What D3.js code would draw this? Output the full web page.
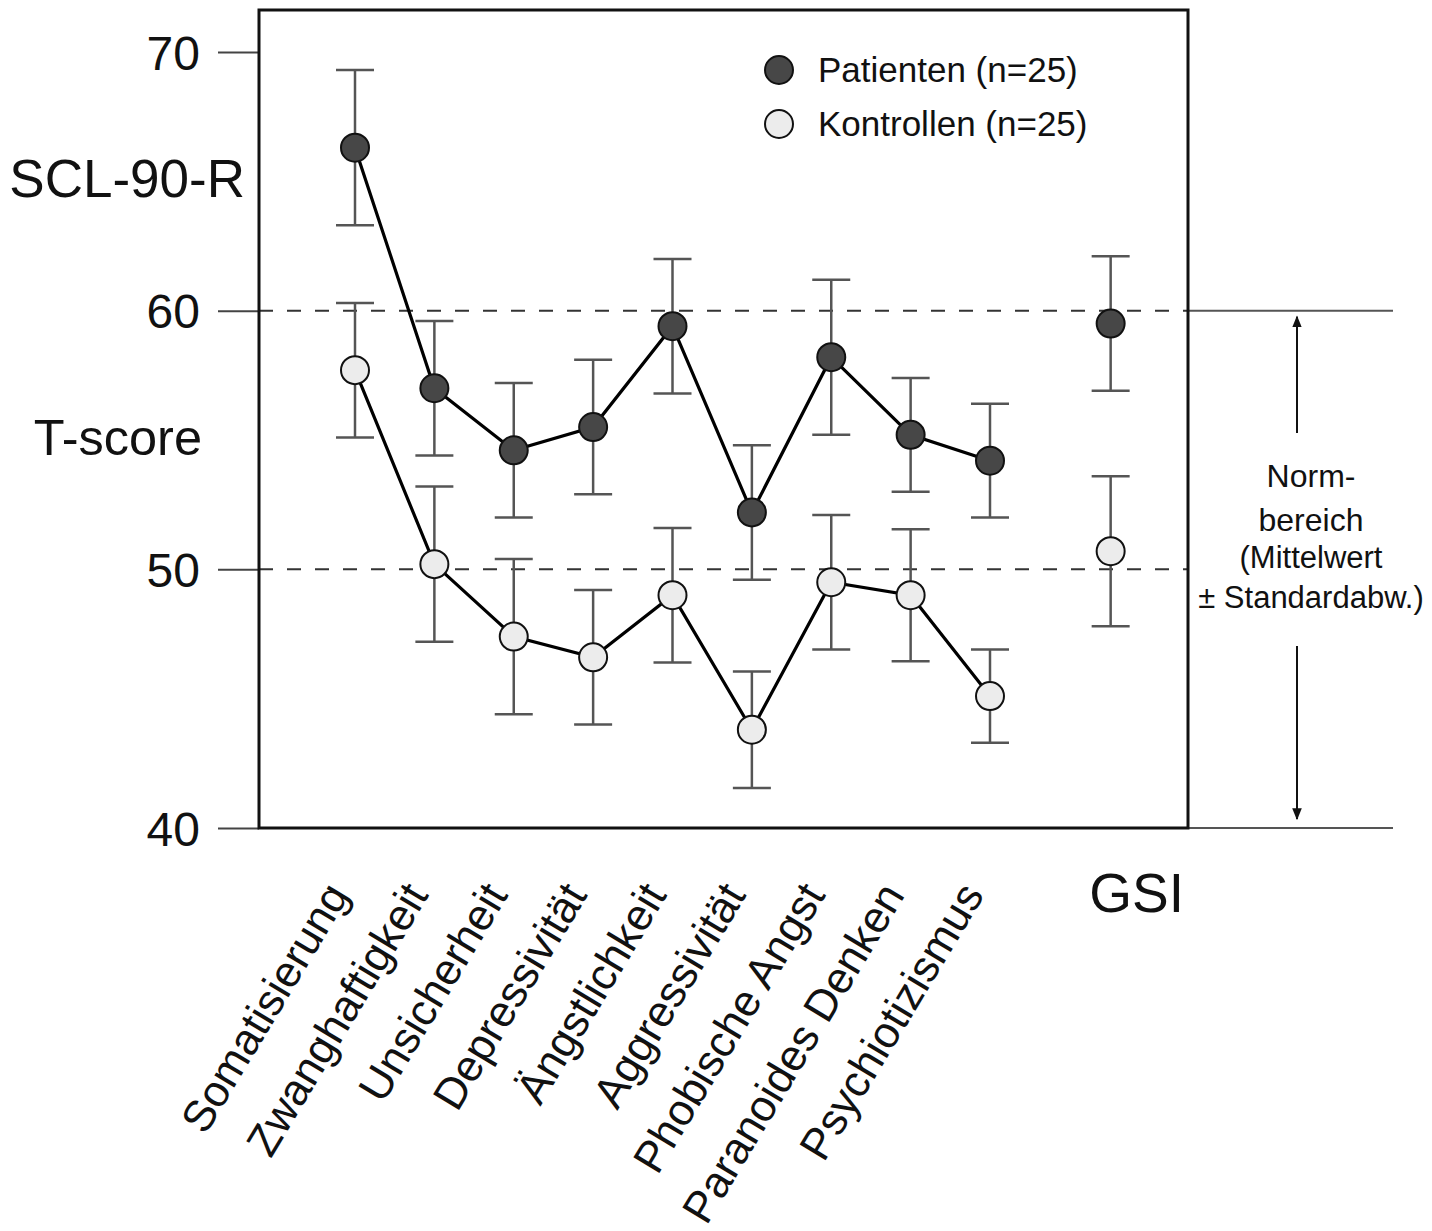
<!DOCTYPE html>
<html>
<head>
<meta charset="utf-8">
<script src="https://cdn.jsdelivr.net/npm/d3@7"></script>
<style>
  body { margin: 0; background: #fff; }
  text { font-family: "Liberation Sans", Arial, Helvetica, sans-serif; fill: #111; }
</style>
</head>
<body>
<svg id="chart"></svg>
<script>
// subscales of the SCL-90-R plus the global severity index
const SUBSCALES = ['Somatisierung', 'Zwanghaftigkeit', 'Unsicherheit', 'Depressivität', 'Ängstlichkeit',
  'Aggressivität', 'Phobische Angst', 'Paranoides Denken', 'Psychiotizismus'];
const GSI = 'GSI';

// T-score means and standard deviations (subscales first, GSI last)
const PATIENT_MEAN = [66.3, 57.0, 54.6, 55.5, 59.4, 52.2, 58.2, 55.2, 54.2, 59.5];
const PATIENT_SD   = [3.0, 2.6, 2.6, 2.6, 2.6, 2.6, 3.0, 2.2, 2.2, 2.6];
const CONTROL_MEAN = [57.7, 50.2, 47.4, 46.6, 49.0, 43.8, 49.5, 49.0, 45.1, 50.7];
const CONTROL_SD   = [2.6, 3.0, 3.0, 2.6, 2.6, 2.25, 2.6, 2.55, 1.8, 2.9];

const Y_TICKS = [40, 50, 60, 70];
const NORM_RANGE = [50, 60];
const LEGEND = ['Patienten (n=25)', 'Kontrollen (n=25)'];
const NORM_NOTE = ['Norm-', 'bereich', '(Mittelwert', '± Standardabw.)'];

const WIDTH = 1432;
const HEIGHT = 1231;
const FRAME = { left: 259, right: 1188, top: 10 };
const FILL = { patient: '#474747', control: '#ececec' };

const svg = d3.select('#chart')
  .attr('width', WIDTH)
  .attr('height', HEIGHT);

const y = d3.scaleLinear().domain([40, 70]).range([828, 52]);
const x = d3.scalePoint().domain(SUBSCALES).range([355, 990]);
const gsiX = x(SUBSCALES[SUBSCALES.length - 1]) + x.step() * 1.52;
const xPos = name => name === GSI ? gsiX : x(name);

const names = SUBSCALES.concat([GSI]);
const groups = [
  { key: 'control', data: names.map((n, i) => ({ name: n, mean: CONTROL_MEAN[i], sd: CONTROL_SD[i] })) },
  { key: 'patient', data: names.map((n, i) => ({ name: n, mean: PATIENT_MEAN[i], sd: PATIENT_SD[i] })) }
];

// norm range dashed lines inside the frame
svg.append('g')
  .selectAll('line')
  .data(NORM_RANGE)
  .enter()
  .append('line')
  .attr('x1', FRAME.left)
  .attr('x2', FRAME.right)
  .attr('y1', d => y(d))
  .attr('y2', d => y(d))
  .attr('stroke', '#333')
  .attr('stroke-width', 2)
  .attr('stroke-dasharray', '14,14');

// lines outside the frame marking the norm area
svg.append('g')
  .selectAll('line')
  .data([60, 40])
  .enter()
  .append('line')
  .attr('x1', FRAME.right)
  .attr('x2', 1393)
  .attr('y1', d => y(d))
  .attr('y2', d => y(d))
  .attr('stroke', '#555')
  .attr('stroke-width', 2);

// y axis
const yAxis = svg.append('g')
  .attr('transform', `translate(${FRAME.left}, 0)`)
  .call(d3.axisLeft(y).tickValues(Y_TICKS).tickSize(41).tickPadding(18));
yAxis.select('.domain').remove();
yAxis.selectAll('.tick line').attr('stroke', '#444').attr('stroke-width', 2);
yAxis.selectAll('.tick text')
  .attr('font-size', 48)
  .attr('fill', '#111')
  .attr('dy', '0.36em')
  .style('font-family', '"Liberation Sans", Arial, sans-serif');

svg.append('text')
  .attr('x', 245)
  .attr('y', 197)
  .attr('text-anchor', 'end')
  .attr('font-size', 53)
  .text('SCL-90-R');

svg.append('text')
  .attr('x', 202)
  .attr('y', 455)
  .attr('text-anchor', 'end')
  .attr('font-size', 50.5)
  .text('T-score');

// error bars
groups.forEach(g => {
  const bars = svg.append('g')
    .attr('class', `err ${g.key}`)
    .selectAll('g')
    .data(g.data)
    .enter()
    .append('g')
    .attr('stroke', '#555')
    .attr('stroke-width', 2.5);
  bars.append('line')
    .attr('x1', d => xPos(d.name))
    .attr('x2', d => xPos(d.name))
    .attr('y1', d => y(d.mean + d.sd))
    .attr('y2', d => y(d.mean - d.sd));
  [1, -1].forEach(s => {
    bars.append('line')
      .attr('x1', d => xPos(d.name) - 19)
      .attr('x2', d => xPos(d.name) + 19)
      .attr('y1', d => y(d.mean + s * d.sd))
      .attr('y2', d => y(d.mean + s * d.sd));
  });
});

// connecting lines (subscales only)
const line = d3.line()
  .x(d => x(d.name))
  .y(d => y(d.mean));

groups.forEach(g => {
  svg.append('path')
    .datum(g.data.filter(d => d.name !== GSI))
    .attr('d', line)
    .attr('fill', 'none')
    .attr('stroke', '#000')
    .attr('stroke-width', 3.2);
});

// points
groups.forEach(g => {
  svg.append('g')
    .selectAll('circle')
    .data(g.data)
    .enter()
    .append('circle')
    .attr('cx', d => xPos(d.name))
    .attr('cy', d => y(d.mean))
    .attr('r', 14)
    .attr('fill', FILL[g.key])
    .attr('stroke', '#111')
    .attr('stroke-width', 2);
});

// frame
svg.append('rect')
  .attr('x', FRAME.left)
  .attr('y', FRAME.top)
  .attr('width', FRAME.right - FRAME.left)
  .attr('height', y(40) - FRAME.top)
  .attr('fill', 'none')
  .attr('stroke', '#111')
  .attr('stroke-width', 3);

// category labels
svg.append('g')
  .selectAll('text')
  .data(SUBSCALES)
  .enter()
  .append('text')
  .attr('text-anchor', 'end')
  .attr('font-size', 44)
  .attr('transform', d => `translate(${x(d) - 5}, 895) rotate(-59)`)
  .text(d => d);

svg.append('text')
  .attr('x', gsiX + 26)
  .attr('y', 912)
  .attr('text-anchor', 'middle')
  .attr('font-size', 55)
  .text(GSI);

// legend
const legend = svg.append('g')
  .selectAll('g')
  .data(LEGEND)
  .enter()
  .append('g')
  .attr('transform', (d, i) => `translate(779, ${70 + i * 54})`);
legend.append('circle')
  .attr('r', 14)
  .attr('fill', (d, i) => i === 0 ? FILL.patient : FILL.control)
  .attr('stroke', '#111')
  .attr('stroke-width', 2);
legend.append('text')
  .attr('x', 39)
  .attr('dy', '0.35em')
  .attr('font-size', 35)
  .text(d => d);

// norm range annotation with arrows
const defs = svg.append('defs');
defs.append('marker')
  .attr('id', 'arrow')
  .attr('viewBox', '0 0 10 10')
  .attr('refX', 9)
  .attr('refY', 5)
  .attr('markerWidth', 6)
  .attr('markerHeight', 8)
  .attr('orient', 'auto')
  .append('path')
  .attr('d', 'M0,1 L10,5 L0,9 Z')
  .attr('fill', '#111');

const arrowX = 1297;
svg.append('line')
  .attr('x1', arrowX).attr('x2', arrowX)
  .attr('y1', 433).attr('y2', y(60) + 6)
  .attr('stroke', '#111').attr('stroke-width', 2)
  .attr('marker-end', 'url(#arrow)');
svg.append('line')
  .attr('x1', arrowX).attr('x2', arrowX)
  .attr('y1', 646).attr('y2', y(40) - 9)
  .attr('stroke', '#111').attr('stroke-width', 2)
  .attr('marker-end', 'url(#arrow)');

const noteSize = [32, 32, 31, 31];
const noteY = [487, 531, 568, 608];
svg.append('g')
  .selectAll('text')
  .data(NORM_NOTE)
  .enter()
  .append('text')
  .attr('x', 1311)
  .attr('y', (d, i) => noteY[i])
  .attr('text-anchor', 'middle')
  .attr('font-size', (d, i) => noteSize[i])
  .text(d => d);
</script>
</body>
</html>
